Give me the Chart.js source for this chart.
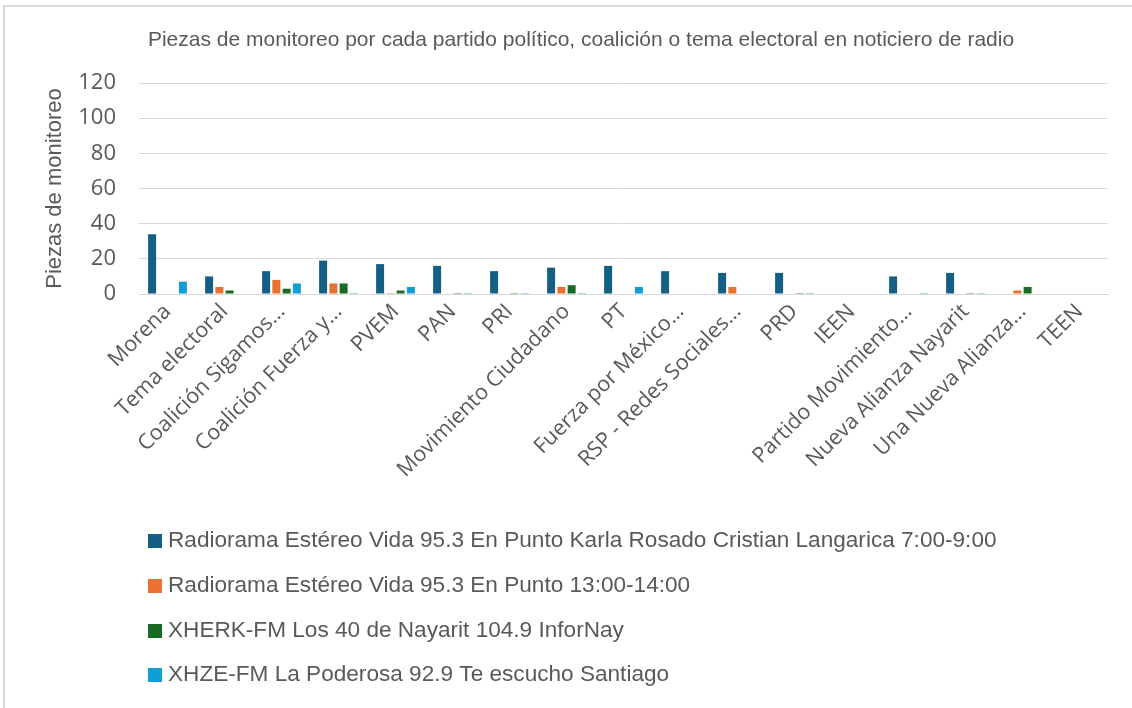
<!DOCTYPE html>
<html>
<head>
<meta charset="utf-8">
<script src="https://cdn.jsdelivr.net/npm/chart.js@4.4.1/dist/chart.umd.min.js"></script>
<style>
  html, body { margin: 0; padding: 0; background: #fff; }
  #wrap { width: 1132px; height: 708px; position: relative; }
</style>
</head>
<body>
<div id="wrap"><canvas id="c" width="1132" height="708"></canvas></div>
<script>
const categories = ["Morena", "Tema electoral", "Coalición Sigamos…", "Coalición Fuerza y…", "PVEM", "PAN", "PRI", "Movimiento Ciudadano", "PT", "Fuerza por México…", "RSP - Redes Sociales…", "PRD", "IEEN", "Partido Movimiento…", "Nueva Alianza Nayarit", "Una Nueva Alianza…", "TEEN"];
const seriesNames = [
  "Radiorama Estéreo Vida 95.3 En Punto Karla Rosado Cristian Langarica 7:00-9:00",
  "Radiorama Estéreo Vida 95.3 En Punto 13:00-14:00",
  "XHERK-FM Los 40 de Nayarit 104.9 InforNay",
  "XHZE-FM La Poderosa 92.9 Te escucho Santiago"
];
const vidaManana = [34, 10, 13, 19, 17, 16, 13, 15, 16, 13, 12, 12, 0, 10, 12, 0, 0];
const vidaTarde  = [0, 4, 8, 6, 0.5, 0, 0, 4, 0, 0, 4, 0, 0, 0, 0, 2, 0];
const xherk      = [0, 2, 3, 6, 2, 0.5, 0.5, 5, 0, 0, 0, 0.5, 0, 0, 0.5, 4, 0];
const xhze       = [7, 0, 6, 0.5, 4, 0.5, 0.5, 0.5, 4, 0, 0, 0.5, 0, 0.5, 0.5, 0, 0];
const yTicks = [0, 20, 40, 60, 80, 100, 120];
const colors = ["#156082", "#E97132", "#196B24", "#0F9ED5"];
const chartTitle = "Piezas de monitoreo por cada partido político, coalición o tema electoral en noticiero de radio";

const FONT = "'Liberation Sans', Arial, sans-serif";
const FONT2 = "'Open Sans', 'Liberation Sans', sans-serif";
const TXT = "#595959";

const frameAndLegend = {
  id: 'frameAndLegend',
  beforeDraw(chart) {
    const ctx = chart.ctx;
    ctx.save();
    ctx.fillStyle = '#ffffff';
    ctx.fillRect(0, 0, chart.width, chart.height);
    ctx.strokeStyle = '#d9d9d9';
    ctx.lineWidth = 2;
    ctx.strokeRect(4, 6, 1160, 740);
    ctx.restore();
  },
  afterDraw(chart) {
    const ctx = chart.ctx;
    ctx.save();
    // title
    ctx.fillStyle = TXT;
    ctx.font = "21px " + FONT;
    ctx.textAlign = 'center';
    ctx.textBaseline = 'middle';
    ctx.fillText(chartTitle, 581, 40);
    // legend
    const rows = [541, 586, 631, 675];
    chart.data.datasets.forEach((ds, i) => {
      const cy = rows[i];
      ctx.fillStyle = ds.backgroundColor;
      ctx.fillRect(148, cy - 7, 14, 14);
      ctx.fillStyle = TXT;
      ctx.font = "22.6px " + FONT;
      ctx.textBaseline = 'middle';
      ctx.textAlign = 'left';
      ctx.fillText(ds.label, 168, cy);
    });
    ctx.restore();
  }
};

const datasets = [vidaManana, vidaTarde, xherk, xhze].map((d, i) => ({
  label: seriesNames[i],
  data: d,
  backgroundColor: colors[i],
  borderWidth: 0,
  categoryPercentage: 0.72,
  barPercentage: 0.78
}));

new Chart(document.getElementById('c'), {
  type: 'bar',
  data: { labels: categories, datasets },
  plugins: [frameAndLegend],
  options: {
    responsive: false,
    animation: false,
    devicePixelRatio: 1,
    layout: { padding: { left: 0, right: 24, top: 83, bottom: 204 } },
    plugins: {
      legend: { display: false },
      tooltip: { enabled: false },
      title: { display: false }
    },
    scales: {
      x: {
        grid: { display: false },
        border: { display: true, color: '#d9d9d9', width: 1 },
        ticks: {
          color: TXT,
          font: { family: FONT2, size: 21.5 },
          minRotation: 45,
          maxRotation: 45,
          autoSkip: false,
          padding: -3
        },
        afterFit(scale) { scale.height = 210; }
      },
      y: {
        min: 0,
        max: 120,
        afterBuildTicks(scale) { scale.ticks = yTicks.map(v => ({ value: v })); },
        grid: { color: '#d9d9d9', lineWidth: 1, drawTicks: false },
        border: { display: false },
        ticks: {
          color: TXT,
          font: { family: FONT2, size: 22 },
          padding: 23
        },
        title: {
          display: true,
          text: "Piezas de monitoreo",
          color: TXT,
          font: { family: FONT, size: 22, weight: 'normal', lineHeight: 1.2 },
          padding: { top: 42, bottom: 0 }
        },
        afterFit(scale) { scale.width = 139; }
      }
    }
  }
});
</script>
</body>
</html>
